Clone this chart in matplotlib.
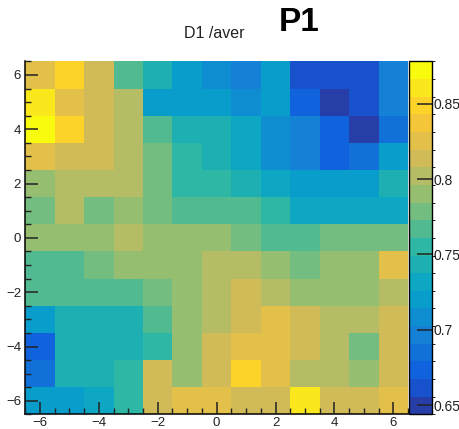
import numpy as np
import matplotlib
matplotlib.use('Agg')
import matplotlib.pyplot as plt
from matplotlib.colors import LinearSegmentedColormap, ListedColormap, BoundaryNorm
from matplotlib.ticker import MultipleLocator


# Bin centres of the 13x13 histogram
x_centers = np.arange(-6, 7)
y_centers = np.arange(-6, 7)

# Cell contents, rows from y=6 (top) down to y=-6 (bottom), columns x=-6..6
rows_top_down = [
    [0.825, 0.849, 0.814, 0.767, 0.744, 0.720, 0.708, 0.697, 0.720, 0.662, 0.662, 0.662, 0.697],
    [0.860, 0.825, 0.814, 0.802, 0.720, 0.720, 0.720, 0.708, 0.720, 0.673, 0.650, 0.662, 0.697],
    [0.872, 0.849, 0.814, 0.802, 0.767, 0.744, 0.744, 0.732, 0.708, 0.697, 0.673, 0.650, 0.685],
    [0.825, 0.814, 0.814, 0.802, 0.779, 0.755, 0.744, 0.732, 0.708, 0.697, 0.673, 0.685, 0.720],
    [0.790, 0.802, 0.802, 0.802, 0.779, 0.755, 0.755, 0.744, 0.732, 0.720, 0.720, 0.720, 0.744],
    [0.779, 0.802, 0.779, 0.790, 0.779, 0.767, 0.767, 0.767, 0.755, 0.732, 0.732, 0.732, 0.732],
    [0.790, 0.790, 0.790, 0.802, 0.790, 0.790, 0.790, 0.779, 0.767, 0.767, 0.779, 0.779, 0.779],
    [0.767, 0.767, 0.779, 0.790, 0.790, 0.790, 0.802, 0.802, 0.790, 0.779, 0.790, 0.790, 0.825],
    [0.767, 0.767, 0.767, 0.767, 0.779, 0.790, 0.802, 0.814, 0.802, 0.790, 0.790, 0.790, 0.802],
    [0.720, 0.744, 0.744, 0.744, 0.767, 0.790, 0.802, 0.814, 0.825, 0.814, 0.802, 0.802, 0.814],
    [0.673, 0.744, 0.744, 0.744, 0.755, 0.790, 0.814, 0.825, 0.825, 0.814, 0.802, 0.779, 0.814],
    [0.685, 0.744, 0.744, 0.755, 0.814, 0.790, 0.814, 0.849, 0.825, 0.802, 0.802, 0.790, 0.814],
    [0.720, 0.720, 0.732, 0.755, 0.814, 0.825, 0.825, 0.814, 0.814, 0.860, 0.814, 0.814, 0.825],
]

z_min, z_max = 0.644, 0.878
n_levels = 20

colorbar_ticks = [0.65, 0.7, 0.75, 0.8, 0.85]
colorbar_labels = ['0.65', '0.7', '0.75', '0.8', '0.85']

# ROOT kBird palette
bird_r = [0.2082, 0.0592, 0.0780, 0.0232, 0.1802, 0.5301, 0.8186, 0.9956, 0.9764]
bird_g = [0.1664, 0.3599, 0.5041, 0.6419, 0.7178, 0.7492, 0.7328, 0.7862, 0.9832]
bird_b = [0.5293, 0.8684, 0.8385, 0.7914, 0.6425, 0.4662, 0.3499, 0.1968, 0.0539]

stops = np.linspace(0, 1, len(bird_r))
bird = LinearSegmentedColormap.from_list(
    'bird', list(zip(stops, zip(bird_r, bird_g, bird_b))), N=255)
level_colors = [bird((k + 0.99) / n_levels) for k in range(n_levels)]
cmap = ListedColormap(level_colors)
norm = BoundaryNorm(np.linspace(z_min, z_max, n_levels + 1), n_levels)

plt.rcParams['font.family'] = ['Liberation Sans', 'DejaVu Sans']

fig = plt.figure(figsize=(4.6, 4.29), dpi=100)
ax = fig.add_axes([0.055, 0.034, 0.832, 0.823])
cax = fig.add_axes([0.889, 0.034, 0.050, 0.823])

z = np.array(rows_top_down)[::-1]
x_edges = np.append(x_centers - 0.5, x_centers[-1] + 0.5)
y_edges = np.append(y_centers - 0.5, y_centers[-1] + 0.5)
mesh = ax.pcolormesh(x_edges, y_edges, z, cmap=cmap, norm=norm)

ax.set_xlim(-6.5, 6.5)
ax.set_ylim(-6.5, 6.5)
ax.xaxis.set_major_locator(MultipleLocator(2))
ax.xaxis.set_minor_locator(MultipleLocator(0.5))
ax.yaxis.set_major_locator(MultipleLocator(2))
ax.yaxis.set_minor_locator(MultipleLocator(0.5))
ax.tick_params(which='major', direction='in', length=9, width=1.1, labelsize=9.5,
               colors='#222222', pad=3)
ax.tick_params(axis='x', which='major', pad=2)
ax.tick_params(which='minor', direction='in', length=4, width=1.0, colors='#222222')
for side in ['top', 'right']:
    ax.spines[side].set_visible(False)
for side in ['left', 'bottom']:
    ax.spines[side].set_linewidth(1.1)
ax.set_axisbelow(False)

cb = fig.colorbar(mesh, cax=cax, ticks=colorbar_ticks)
cb.ax.set_yticklabels(colorbar_labels)
cb.ax.set_ylim(z_min, z_max)
cb.ax.tick_params(direction='in', length=11, width=1.1, labelsize=10,
                  colors='#222222', pad=1)
cb.outline.set_linewidth(1.0)

fig.text(0.465, 0.923, 'D1 /aver', ha='center', va='center', fontsize=11.5,
         color='#222222')
fig.text(0.650, 0.948, 'P1', ha='center', va='center', fontsize=24,
         fontweight='bold', color='black')

fig.savefig('out.png', dpi=100)
